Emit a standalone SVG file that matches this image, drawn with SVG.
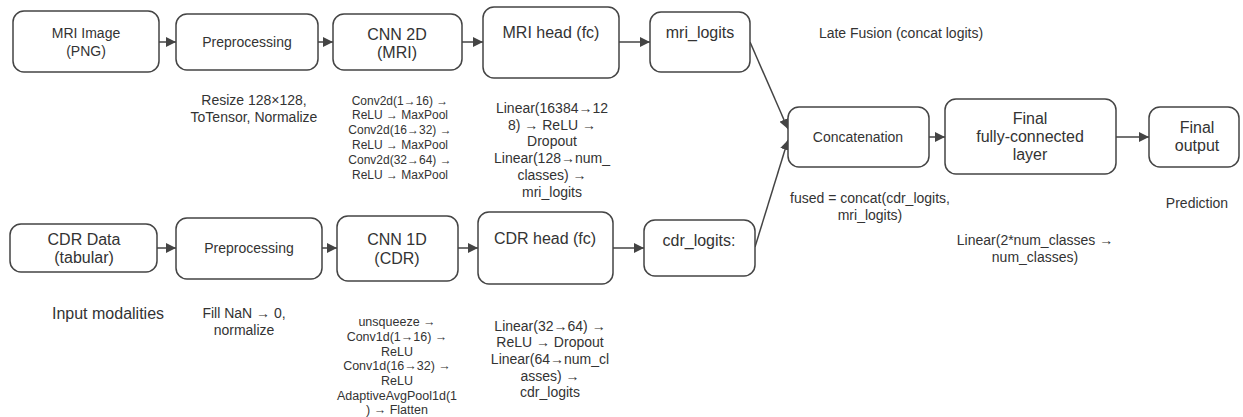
<svg xmlns="http://www.w3.org/2000/svg" width="1243" height="417" viewBox="0 0 1243 417">
<defs>
<marker id="ah" viewBox="0 0 10 10" refX="10" refY="5" markerWidth="10" markerHeight="10" markerUnits="userSpaceOnUse" orient="auto">
<path d="M0,0 L10,5 L0,10 Z" fill="#444"/>
</marker>
<style>
.box{fill:#fff;stroke:#444;stroke-width:1.5}
text{font-family:"Liberation Sans",Arial,sans-serif;fill:#333;text-anchor:middle}
.n14{font-size:14px}
.n16{font-size:16px}
.s12{font-size:12px}
.s125{font-size:12.5px}
.s14{font-size:14px}
.c{stroke:#444;stroke-width:1.5;fill:none;marker-end:url(#ah)}
</style>
</defs>
<rect width="1243" height="417" fill="#fff"/>

<g id="connectors">
<line class="c" x1="159" y1="42" x2="176" y2="42"/>
<line class="c" x1="318" y1="42" x2="333" y2="42"/>
<line class="c" x1="462" y1="42" x2="483" y2="42"/>
<line class="c" x1="619" y1="42" x2="650" y2="42"/>
<line class="c" x1="157" y1="248" x2="176" y2="248"/>
<line class="c" x1="322" y1="248" x2="337" y2="248"/>
<line class="c" x1="458" y1="248" x2="478" y2="248"/>
<line class="c" x1="613" y1="248" x2="644" y2="248"/>
<line class="c" x1="750" y1="42" x2="788" y2="129"/>
<line class="c" x1="755" y1="247" x2="788" y2="140"/>
<line class="c" x1="929" y1="137" x2="945" y2="137"/>
<line class="c" x1="1116" y1="137" x2="1149" y2="137"/>
</g>

<g id="mri_image"><rect class="box" x="13" y="11" width="146" height="61" rx="11"/>
<text class="n14" x="86" y="38">MRI Image</text><text class="n14" x="86" y="56">(PNG)</text></g>
<g id="mri_pre"><rect class="box" x="176" y="14" width="142" height="56" rx="11"/>
<text class="n14" x="247" y="47">Preprocessing</text></g>
<g id="cnn2d"><rect class="box" x="333" y="14" width="129" height="56" rx="11"/>
<text class="n16" x="397" y="40">CNN 2D</text><text class="n16" x="397" y="58">(MRI)</text></g>
<g id="mri_head"><rect class="box" x="483" y="7" width="136" height="71" rx="11"/>
<text class="n16" x="551" y="38">MRI head (fc)</text></g>
<g id="mri_logits"><rect class="box" x="650" y="12" width="100" height="60" rx="11"/>
<text class="n16" x="700" y="38">mri_logits</text></g>

<g id="cdr_data"><rect class="box" x="10" y="224" width="147" height="48" rx="11"/>
<text class="n16" x="84" y="245">CDR Data</text><text class="n16" x="84" y="263">(tabular)</text></g>
<g id="cdr_pre"><rect class="box" x="176" y="218" width="146" height="61" rx="11"/>
<text class="n14" x="249" y="253">Preprocessing</text></g>
<g id="cnn1d"><rect class="box" x="337" y="216" width="121" height="65" rx="11"/>
<text class="n16" x="397" y="245">CNN 1D</text><text class="n16" x="397" y="264">(CDR)</text></g>
<g id="cdr_head"><rect class="box" x="478" y="212" width="135" height="72" rx="11"/>
<text class="n16" x="545" y="244">CDR head (fc)</text></g>
<g id="cdr_logits"><rect class="box" x="644" y="220" width="111" height="56" rx="11"/>
<text class="n16" x="699" y="246">cdr_logits:</text></g>

<g id="concat"><rect class="box" x="788" y="107" width="141" height="60" rx="11"/>
<text class="n14" x="858" y="142">Concatenation</text></g>
<g id="final_fc"><rect class="box" x="945" y="99" width="171" height="75" rx="11"/>
<text class="n16" x="1030" y="124">Final</text><text class="n16" x="1030" y="142">fully-connected</text><text class="n16" x="1030" y="160">layer</text></g>
<g id="final_out"><rect class="box" x="1149" y="107" width="90" height="60" rx="11"/>
<text class="n16" x="1197" y="133">Final</text><text class="n16" x="1197" y="151">output</text></g>

<g id="labels">
<text class="s14" x="901" y="38">Late Fusion (concat logits)</text>
<text class="s14" x="254" y="105">Resize 128×128,</text>
<text class="s14" x="254" y="122">ToTensor, Normalize</text>
<text class="s12" x="400" y="105">Conv2d(1→16) →</text>
<text class="s12" x="400" y="119">ReLU → MaxPool</text>
<text class="s12" x="400" y="134">Conv2d(16→32) →</text>
<text class="s12" x="400" y="149">ReLU → MaxPool</text>
<text class="s12" x="400" y="164">Conv2d(32→64) →</text>
<text class="s12" x="400" y="179">ReLU → MaxPool</text>
<text class="s14" x="552" y="113">Linear(16384→12</text>
<text class="s14" x="552" y="130">8) → ReLU →</text>
<text class="s14" x="552" y="146">Dropout</text>
<text class="s14" x="552" y="163">Linear(128→num_</text>
<text class="s14" x="552" y="180">classes) →</text>
<text class="s14" x="552" y="197">mri_logits</text>
<text class="s14" x="870" y="203">fused = concat(cdr_logits,</text>
<text class="s14" x="870" y="220">mri_logits)</text>
<text class="s14" x="1197" y="208">Prediction</text>
<text class="s14" x="1035" y="245">Linear(2*num_classes →</text>
<text class="s14" x="1035" y="262">num_classes)</text>
<text class="n16" x="108" y="319">Input modalities</text>
<text class="s14" x="244" y="318">Fill NaN → 0,</text>
<text class="s14" x="244" y="335">normalize</text>
<text class="s125" x="397" y="326">unsqueeze →</text>
<text class="s125" x="397" y="341">Conv1d(1→16) →</text>
<text class="s125" x="397" y="356">ReLU</text>
<text class="s125" x="397" y="370">Conv1d(16→32) →</text>
<text class="s125" x="397" y="385">ReLU</text>
<text class="s125" x="397" y="400">AdaptiveAvgPool1d(1</text>
<text class="s125" x="397" y="414">) → Flatten</text>
<text class="s14" x="550" y="331">Linear(32→64) →</text>
<text class="s14" x="550" y="347">ReLU → Dropout</text>
<text class="s14" x="550" y="364">Linear(64→num_cl</text>
<text class="s14" x="550" y="381">asses) →</text>
<text class="s14" x="550" y="397">cdr_logits</text>
</g>
</svg>
